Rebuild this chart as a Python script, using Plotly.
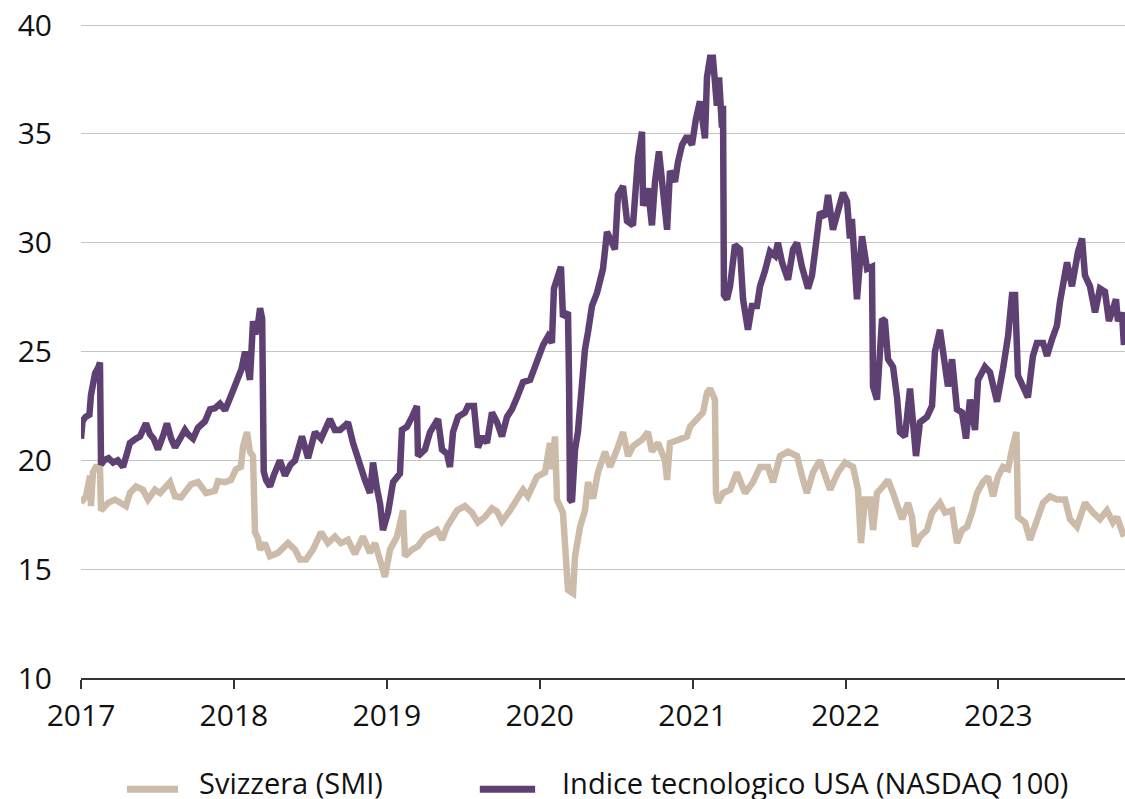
import plotly.graph_objects as go

# decimal years
smi_x = [
    2017.000, 2017.033, 2017.059, 2017.065, 2017.078, 2017.098, 2017.124, 2017.131, 2017.177, 2017.222,
    2017.294, 2017.320, 2017.360, 2017.405, 2017.438, 2017.484, 2017.517, 2017.582, 2017.615, 2017.654,
    2017.719, 2017.765, 2017.818, 2017.876, 2017.896, 2017.942, 2017.981, 2018.014, 2018.046, 2018.060,
    2018.086, 2018.105, 2018.125, 2018.138, 2018.158, 2018.171, 2018.203, 2018.236, 2018.288, 2018.354,
    2018.400, 2018.432, 2018.472, 2018.517, 2018.570, 2018.615, 2018.661, 2018.700, 2018.746, 2018.792,
    2018.844, 2018.890, 2018.923, 2018.956, 2018.988, 2019.021, 2019.067, 2019.106, 2019.119, 2019.165,
    2019.204, 2019.250, 2019.328, 2019.361, 2019.394, 2019.459, 2019.511, 2019.557, 2019.596, 2019.642,
    2019.688, 2019.721, 2019.753, 2019.806, 2019.852, 2019.891, 2019.923, 2019.982, 2020.035, 2020.067,
    2020.080, 2020.100, 2020.113, 2020.152, 2020.185, 2020.218, 2020.231, 2020.264, 2020.296, 2020.316,
    2020.349, 2020.381, 2020.427, 2020.460, 2020.506, 2020.545, 2020.578, 2020.610, 2020.669, 2020.708,
    2020.734, 2020.774, 2020.819, 2020.833, 2020.852, 2020.904, 2020.963, 2020.983, 2021.029, 2021.068,
    2021.094, 2021.114, 2021.146, 2021.153, 2021.166, 2021.199, 2021.245, 2021.290, 2021.343, 2021.395,
    2021.441, 2021.493, 2021.526, 2021.572, 2021.624, 2021.683, 2021.722, 2021.748, 2021.787, 2021.833,
    2021.899, 2021.951, 2021.997, 2022.049, 2022.082, 2022.101, 2022.127, 2022.160, 2022.180, 2022.206,
    2022.245, 2022.278, 2022.311, 2022.343, 2022.370, 2022.409, 2022.435, 2022.455, 2022.487, 2022.533,
    2022.566, 2022.618, 2022.651, 2022.697, 2022.729, 2022.762, 2022.795, 2022.827, 2022.860, 2022.899,
    2022.932, 2022.965, 2022.997, 2023.030, 2023.063, 2023.089, 2023.118, 2023.128, 2023.174, 2023.207,
    2023.252, 2023.292, 2023.337, 2023.383, 2023.436, 2023.468, 2023.514, 2023.566, 2023.619, 2023.664,
    2023.710, 2023.749, 2023.776, 2023.808, 2023.821,
]
smi_y = [
    18.05, 18.35, 19.3, 17.9, 19.45, 19.7, 19.7, 17.7, 18.05, 18.2,
    17.9, 18.5, 18.8, 18.65, 18.2, 18.65, 18.5, 19.0, 18.35, 18.3,
    18.9, 19.0, 18.5, 18.6, 19.05, 19.0, 19.1, 19.6, 19.7, 20.65,
    21.3, 20.4, 20.2, 16.7, 16.4, 15.9, 16.2, 15.6, 15.75, 16.2,
    15.9, 15.45, 15.45, 15.9, 16.7, 16.2, 16.5, 16.2, 16.35, 15.7,
    16.5, 15.75, 16.2, 15.45, 14.65, 15.9, 16.5, 17.7, 15.6, 15.9,
    16.05, 16.5, 16.8, 16.35, 16.95, 17.7, 17.9, 17.6, 17.15, 17.4,
    17.8, 17.65, 17.2, 17.7, 18.2, 18.65, 18.35, 19.25, 19.45, 20.8,
    19.6, 21.1, 18.2, 17.6, 14.05, 13.9, 15.6, 16.95, 17.7, 19.0,
    18.25, 19.45, 20.4, 19.7, 20.5, 21.3, 20.2, 20.65, 20.95, 21.3,
    20.4, 20.8, 20.0, 19.1, 20.8, 20.95, 21.1, 21.55, 21.9, 22.2,
    23.1, 23.3, 22.8, 18.5, 18.05, 18.5, 18.65, 19.45, 18.5, 19.0,
    19.7, 19.7, 19.0, 20.2, 20.4, 20.2, 19.1, 18.5, 19.45, 20.0,
    18.65, 19.45, 19.9, 19.7, 18.65, 16.2, 18.2, 18.2, 16.8, 18.5,
    18.8, 19.1, 18.5, 17.7, 17.3, 18.05, 17.4, 16.05, 16.5, 16.8,
    17.6, 18.05, 17.6, 17.7, 16.2, 16.8, 16.95, 17.6, 18.5, 19.0,
    19.25, 18.35, 19.25, 19.7, 19.6, 20.5, 21.3, 17.4, 17.15, 16.35,
    17.15, 18.05, 18.35, 18.2, 18.2, 17.3, 16.95, 18.05, 17.6, 17.3,
    17.7, 17.15, 17.4, 16.7, 16.5,
]

ndx_x = [
    2017.000, 2017.010, 2017.030, 2017.055, 2017.065, 2017.080, 2017.092, 2017.115, 2017.124, 2017.131,
    2017.150, 2017.180, 2017.210, 2017.240, 2017.275, 2017.300, 2017.320, 2017.360, 2017.386, 2017.425,
    2017.451, 2017.475, 2017.504, 2017.540, 2017.562, 2017.590, 2017.615, 2017.640, 2017.680, 2017.700,
    2017.733, 2017.765, 2017.811, 2017.844, 2017.876, 2017.909, 2017.942, 2017.988, 2018.027, 2018.050,
    2018.073, 2018.090, 2018.105, 2018.125, 2018.140, 2018.160, 2018.171, 2018.185, 2018.195, 2018.210,
    2018.236, 2018.260, 2018.301, 2018.334, 2018.370, 2018.400, 2018.445, 2018.485, 2018.530, 2018.570,
    2018.600, 2018.628, 2018.660, 2018.694, 2018.727, 2018.746, 2018.779, 2018.800, 2018.825, 2018.857,
    2018.890, 2018.910, 2018.936, 2018.956, 2018.975, 2018.990, 2019.008, 2019.041, 2019.086, 2019.099,
    2019.132, 2019.165, 2019.197, 2019.204, 2019.250, 2019.283, 2019.335, 2019.361, 2019.394, 2019.413,
    2019.433, 2019.466, 2019.511, 2019.531, 2019.570, 2019.596, 2019.629, 2019.655, 2019.688, 2019.721,
    2019.753, 2019.786, 2019.819, 2019.852, 2019.891, 2019.937, 2019.982, 2020.022, 2020.054, 2020.080,
    2020.093, 2020.120, 2020.139, 2020.152, 2020.185, 2020.192, 2020.198, 2020.211, 2020.231, 2020.250,
    2020.277, 2020.296, 2020.316, 2020.342, 2020.375, 2020.414, 2020.440, 2020.492, 2020.512, 2020.545,
    2020.571, 2020.610, 2020.643, 2020.669, 2020.676, 2020.708, 2020.734, 2020.754, 2020.780, 2020.806,
    2020.833, 2020.852, 2020.885, 2020.904, 2020.931, 2020.963, 2020.996, 2021.022, 2021.048, 2021.081,
    2021.094, 2021.114, 2021.133, 2021.159, 2021.173, 2021.192, 2021.199, 2021.205, 2021.225, 2021.245,
    2021.277, 2021.310, 2021.330, 2021.362, 2021.388, 2021.421, 2021.441, 2021.473, 2021.506, 2021.539,
    2021.558, 2021.585, 2021.624, 2021.657, 2021.683, 2021.715, 2021.755, 2021.781, 2021.833, 2021.866,
    2021.886, 2021.918, 2021.964, 2021.984, 2022.010, 2022.029, 2022.042, 2022.062, 2022.075, 2022.108,
    2022.141, 2022.173, 2022.180, 2022.206, 2022.239, 2022.258, 2022.278, 2022.311, 2022.337, 2022.356,
    2022.389, 2022.422, 2022.441, 2022.461, 2022.487, 2022.533, 2022.566, 2022.585, 2022.618, 2022.638,
    2022.670, 2022.697, 2022.729, 2022.762, 2022.788, 2022.814, 2022.847, 2022.867, 2022.912, 2022.945,
    2022.991, 2023.030, 2023.063, 2023.089, 2023.109, 2023.128, 2023.174, 2023.193, 2023.226, 2023.252,
    2023.292, 2023.318, 2023.350, 2023.383, 2023.403, 2023.449, 2023.481, 2023.501, 2023.521, 2023.547,
    2023.566, 2023.599, 2023.632, 2023.664, 2023.697, 2023.723, 2023.769, 2023.782, 2023.808, 2023.821,
]
ndx_y = [
    21.0, 21.8, 22.0, 22.1, 23.0, 23.4, 24.0, 24.3, 24.5, 19.8,
    20.0, 20.1, 19.9, 20.0, 19.7, 20.3, 20.8, 21.0, 21.1, 21.7,
    21.2, 21.0, 20.5, 21.2, 21.7, 21.0, 20.6, 20.9, 21.4, 21.2,
    21.0, 21.5, 21.8, 22.35, 22.4, 22.6, 22.3, 23.1, 23.7, 24.2,
    25.0, 24.4, 23.7, 26.4, 25.8, 26.4, 27.0, 26.5, 19.5, 19.1,
    18.8, 19.3, 20.0, 19.3, 19.8, 20.0, 21.1, 20.1, 21.3, 21.0,
    21.4, 21.9, 21.4, 21.4, 21.6, 21.75, 20.8, 20.3, 19.6, 19.1,
    18.5, 19.9, 18.7, 18.0, 16.8, 17.2, 17.6, 19.0, 19.4, 21.4,
    21.55, 22.0, 22.5, 20.2, 20.5, 21.3, 21.9, 20.5, 20.3, 19.7,
    21.3, 22.0, 22.2, 22.5, 22.5, 20.6, 21.1, 20.8, 22.2, 21.75,
    21.1, 22.0, 22.35, 22.9, 23.6, 23.7, 24.6, 25.3, 25.7, 25.4,
    27.9, 28.5, 28.9, 26.6, 26.8, 23.6, 18.2, 18.1, 20.5, 21.3,
    23.6, 25.1, 25.9, 27.1, 27.7, 28.8, 30.5, 29.7, 32.2, 32.6,
    31.0, 30.8, 33.9, 35.1, 31.7, 32.5, 30.8, 32.8, 34.2, 32.2,
    30.6, 33.3, 32.8, 33.7, 34.5, 34.9, 34.5, 35.7, 36.5, 34.8,
    37.6, 38.5, 38.5, 36.3, 37.6, 35.3, 36.3, 27.6, 27.4, 28.0,
    29.9, 29.7, 27.4, 26.0, 27.1, 27.1, 28.0, 28.7, 29.6, 29.4,
    30.0, 29.1, 28.3, 29.7, 30.0, 28.9, 27.9, 28.5, 31.4, 31.2,
    32.2, 30.6, 32.0, 32.3, 31.9, 30.2, 31.1, 28.2, 27.4, 30.3,
    28.8, 28.9, 23.4, 22.8, 26.5, 26.4, 24.65, 24.3, 22.9, 21.3,
    21.1, 23.3, 21.9, 20.2, 21.75, 22.0, 22.5, 25.0, 26.0, 25.1,
    23.4, 24.65, 22.35, 22.2, 21.0, 22.8, 21.4, 23.7, 24.3, 24.05,
    22.7, 24.2, 25.7, 27.6, 27.6, 23.9, 23.1, 22.9, 24.8, 25.4,
    25.4, 24.8, 25.55, 26.2, 27.3, 29.1, 28.0, 28.8, 29.6, 30.2,
    28.5, 28.0, 26.8, 27.9, 27.75, 26.4, 27.4, 26.4, 26.8, 25.3,
]

years = [2017, 2018, 2019, 2020, 2021, 2022, 2023]
y_ticks = [10, 15, 20, 25, 30, 35, 40]
series_names = ["Svizzera (SMI)", "Indice tecnologico USA (NASDAQ 100)"]
beige = "#cdbba9"
purple = "#5e4172"
font_family = "Open Sans, Noto Sans, sans-serif"

fig = go.Figure()

fig.add_trace(
    go.Scatter(
        x=smi_x,
        y=smi_y,
        mode="lines",
        name=series_names[0],
        line=dict(color=beige, width=6.5),
        showlegend=False,
    )
)

fig.add_trace(
    go.Scatter(
        x=ndx_x,
        y=ndx_y,
        mode="lines",
        name=series_names[1],
        line=dict(color=purple, width=6.5),
        showlegend=False,
    )
)

# legend drawn by hand so the swatches can be long and thick
legend_items = [
    (0.044, 0.093, 0.111, beige, series_names[0]),
    (0.382, 0.435, 0.459, purple, series_names[1]),
]
for x0, x1, xt, color, label in legend_items:
    fig.add_shape(
        type="line",
        xref="paper", yref="paper",
        x0=x0, x1=x1, y0=-0.170, y1=-0.170,
        line=dict(color=color, width=7),
    )
    fig.add_annotation(
        xref="paper", yref="paper",
        x=xt, y=-0.160,
        text=label,
        showarrow=False,
        xanchor="left", yanchor="middle",
        font=dict(size=29, color="#111111"),
    )

fig.update_layout(
    width=1125,
    height=799,
    plot_bgcolor="white",
    paper_bgcolor="white",
    font=dict(family=font_family, size=30, color="#111111"),
    margin=dict(l=81, r=0, t=23, b=121),
    xaxis=dict(
        range=[2017, 2023.828],
        tickvals=years,
        ticktext=[str(y) for y in years],
        ticks="outside",
        ticklen=9,
        tickwidth=1.5,
        tickcolor="#333333",
        showline=True,
        linecolor="#333333",
        linewidth=1.5,
        showgrid=False,
        zeroline=False,
        ticklabelstandoff=1,
    ),
    yaxis=dict(
        range=[10, 40.1],
        tickvals=y_ticks,
        ticktext=[str(v) for v in y_ticks],
        showgrid=True,
        gridcolor="#c4c4c4",
        gridwidth=1,
        zeroline=False,
        showline=False,
        ticks="",
        ticklabelstandoff=28,
        ticklabeloverflow="allow",
    ),
)

# drop the page's default body margin so the figure fills the window
fig.write_html(
    "out.html",
    config={"displayModeBar": False},
    post_script="document.body.style.margin='0'; document.body.style.overflow='hidden';",
)
